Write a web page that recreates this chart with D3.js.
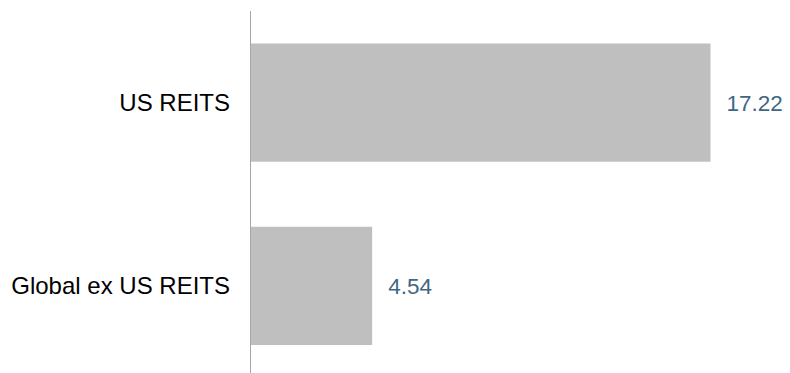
<!DOCTYPE html>
<html>
<head>
<meta charset="utf-8">
<script src="https://cdn.jsdelivr.net/npm/d3@7"></script>
<style>
  html, body { margin: 0; padding: 0; background: #fff; }
  text { font-family: Arial, "Liberation Sans", sans-serif; }
</style>
</head>
<body>
<svg id="chart" width="790" height="373"></svg>
<script>
const categories = ['US REITS', 'Global ex US REITS']
const values = [17.22, 4.54]
const valueLabels = ['17.22', '4.54']

const svg = d3.select('#chart')
const width = +svg.attr('width')
const height = +svg.attr('height')

const axisX = 250
const x = d3.scaleLinear()
  .domain([0, d3.max(values)])
  .range([axisX + 1, 710.5])

const y = d3.scaleBand()
  .domain(categories)
  .range([10.5, 378])
  .paddingInner(0.355)
  .paddingOuter(0.18)

const rows = categories.map((c, i) => ({ cat: c, val: values[i], label: valueLabels[i] }))

svg.selectAll('rect.bar')
  .data(rows)
  .enter().append('rect')
    .attr('class', 'bar')
    .attr('x', x(0))
    .attr('y', d => y(d.cat))
    .attr('width', d => x(d.val) - x(0))
    .attr('height', y.bandwidth())
    .style('fill', '#bfbfbf')

// vertical axis line
svg.append('line')
  .attr('x1', axisX + 0.5).attr('x2', axisX + 0.5)
  .attr('y1', 11).attr('y2', height)
  .style('stroke', '#a6a6a6')
  .style('stroke-width', 1)

svg.selectAll('text.cat')
  .data(rows)
  .enter().append('text')
    .attr('class', 'cat')
    .attr('x', axisX - 20)
    .attr('y', d => y(d.cat) + y.bandwidth() / 2 + 8.5)
    .attr('text-anchor', 'end')
    .style('font-size', '24px')
    .style('fill', '#000')
    .text(d => d.cat)

svg.selectAll('text.val')
  .data(rows)
  .enter().append('text')
    .attr('class', 'val')
    .attr('x', d => x(d.val) + 16)
    .attr('y', d => y(d.cat) + y.bandwidth() / 2 + 8.5)
    .style('font-size', '22.5px')
    .style('fill', '#3f6784')
    .text(d => d.label)
</script>
</body>
</html>
